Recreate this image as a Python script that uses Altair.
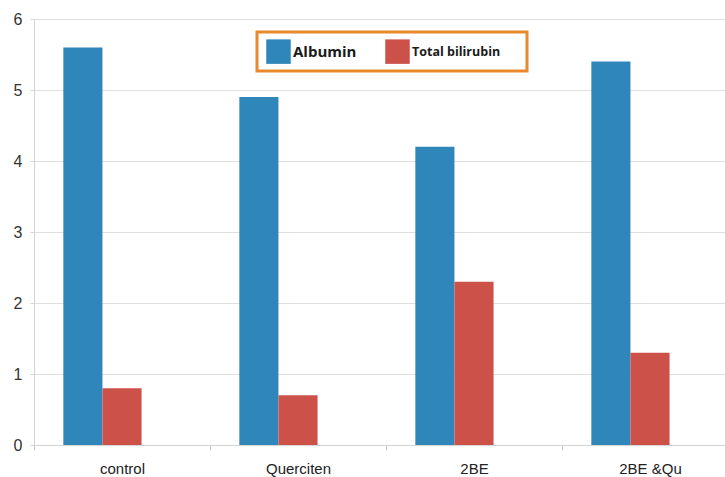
import altair as alt
import pandas as pd

groups = ["control", "Querciten", "2BE", "2BE &Qu"]
series = ["Albumin", "Total bilirubin"]
albumin = [5.6, 4.9, 4.2, 5.4]
bilirubin = [0.8, 0.7, 2.3, 1.3]
y_ticks = [0, 1, 2, 3, 4, 5, 6]
colors = ["#2f86b9", "#cb5149"]

rows = []
for g, a, b in zip(groups, albumin, bilirubin):
    rows.append({"group": g, "series": series[0], "value": a})
    rows.append({"group": g, "series": series[1], "value": b})
df = pd.DataFrame(rows)

bars = alt.Chart(df).mark_bar().encode(
    x=alt.X("group:N", sort=groups, title=None,
            scale=alt.Scale(domain=groups, range=[0, 704], paddingInner=0, paddingOuter=0),
            axis=alt.Axis(labelAngle=0, tickBand="extent", labelFontSize=15,
                          labelFont="Liberation Sans", labelColor="#222222",
                          domainColor="#d4d4d4", tickColor="#c8c8c8", tickSize=5,
                          labelPadding=11, grid=False)),
    xOffset=alt.XOffset("series:N",
                        scale=alt.Scale(domain=series + ["_pad"], paddingInner=0, paddingOuter=0.75)),
    y=alt.Y("value:Q", title=None,
            scale=alt.Scale(domain=[0, 6], nice=False),
            axis=alt.Axis(values=y_ticks, format="d", labelFontSize=16,
                          labelFont="Liberation Sans", labelColor="#333333",
                          domainColor="#d4d4d4", tickColor="#d4d4d4", tickSize=4,
                          gridColor="#dedede", labelPadding=8)),
    color=alt.Color("series:N", scale=alt.Scale(domain=series, range=colors),
                    legend=alt.Legend(title=None, orient="none", legendX=232, legendY=20,
                                      direction="horizontal", symbolType="square",
                                      symbolSize=600, symbolStrokeWidth=0,
                                      labelFont="Open Sans", labelFontWeight="bold",
                                      labelFontSize=alt.ExprRef("datum.label == 'Albumin' ? 15 : 12.5"),
                                      labelColor="#1a1a1a",
                                      labelOffset=2, columnPadding=28, padding=0)),
)

box = alt.Chart(alt.Data(values=[{}])).mark_rect(
    fill=None, stroke="#e8892b", strokeWidth=3
).encode(
    x=alt.value(223), x2=alt.value(493), y=alt.value(13), y2=alt.value(52)
)

chart = alt.layer(bars, box).properties(
    width=691, height=426,
    autosize=alt.AutoSizeParams(type="none"),
    padding={"left": 34, "top": 19, "right": 0, "bottom": 32},
).configure_view(stroke=None).configure(background="white")

chart.save("out.html", embed_options={"renderer": "svg", "actions": False})
